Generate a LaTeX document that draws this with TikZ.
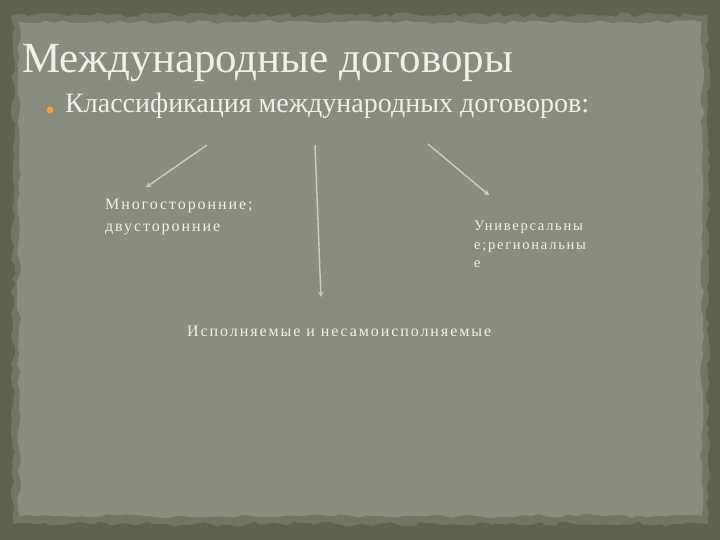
\documentclass[tikz,border=0pt]{standalone}
\usepackage{fontspec}
\setmainfont{Liberation Serif}
\usetikzlibrary{positioning,decorations.pathmorphing}
\definecolor{slateframe}{RGB}{94,99,80}
\definecolor{paperrim}{RGB}{114,118,100}
\definecolor{paper}{RGB}{138,140,128}
\definecolor{chalk}{RGB}{240,240,232}
\definecolor{bulletorange}{RGB}{242,158,58}

\begin{document}
\begin{tikzpicture}
    [x=1pt, y=1pt,
    post/.style={->,
                 chalk!65!paper,
                 line width=1.4pt,
                 >=stealth,
                 shorten >=1pt},
    lbl/.style={text=chalk,
                inner sep=0pt,
                align=left,
                font=\fontsize{16}{22}\selectfont\addfontfeature{LetterSpace=12}}]
    \useasboundingbox (0,0) rectangle (720,540);
    % frame and paper
    \fill[slateframe] (0,0) rectangle (720,540);
    \pgfmathsetseed{7}
    \fill[paperrim,
          decorate,
          decoration={random steps, segment length=7pt, amplitude=2.5pt}]
          (13,16) rectangle (708,525);
    \fill[paper,
          decorate,
          decoration={random steps, segment length=9pt, amplitude=2pt}]
          (19,24) rectangle (702,518);
    % headings
    \node[text=chalk,
          inner sep=0pt,
          anchor=base west,
          font=\fontsize{43}{48}\selectfont] (Title) at (22,467) {Международные договоры};
    \node[text=chalk,
          inner sep=0pt,
          anchor=base west,
          font=\fontsize{28}{32}\selectfont] (Classes) at (65,427) {Классификация международных договоров:};
    \fill[bulletorange] (50,430) circle (3.5) coordinate (Bullet);
    % kinds of treaties (base = last line)
    \node[lbl, anchor=base west] (Multi) at (105,308) {Многосторонние;\\двусторонние};
    \node[lbl, anchor=base west,
          font=\fontsize{14.5}{18.5}\selectfont\addfontfeature{LetterSpace=12}] (Univ) at (474,272) {Универсальны\\е;региональны\\е};
    \node[lbl, anchor=base west] (Exec) at (187,203) {Исполняемые и несамоисполняемые};
    % connectors
    \coordinate (MultiTail) at (207,395);
    \coordinate (MultiHead) at (145,352);
    \coordinate (ExecTail) at (315,395);
    \coordinate (ExecHead) at (321,242);
    \coordinate (UnivTail) at (428,396);
    \coordinate (UnivHead) at (490,344);
    \draw[post] (MultiTail) -- (MultiHead);
    \draw[post] (ExecTail) -- (ExecHead);
    \draw[post] (UnivTail) -- (UnivHead);
\end{tikzpicture}
\end{document}
